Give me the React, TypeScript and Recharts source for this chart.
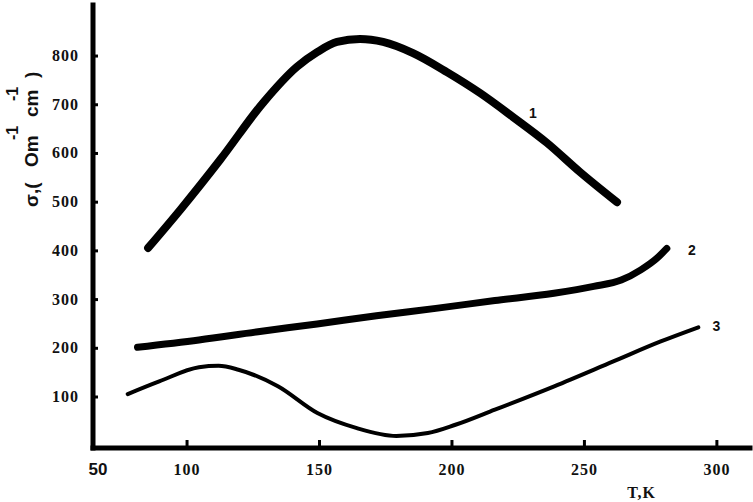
import React from "react";
import { LineChart, Line, XAxis, YAxis, Label, LabelList } from "recharts";

// Curve 1
const curve1T = [85.3, 97.4, 112.5, 128.7, 141.5, 149.1, 156.6, 165.3, 174.0, 185.3, 198.1, 210.6, 223.0, 235.8, 248.3, 262.3];
const curve1Sigma = [406, 484, 587, 704, 778, 808, 829, 835, 829, 806, 767, 724, 675, 622, 562, 500];
// Curve 2
const curve2T = [81.3, 104.5, 126.8, 149.1, 171.5, 193.9, 216.2, 238.5, 253.5, 263.9, 271.3, 277.4, 281.1];
const curve2Sigma = [202, 217, 234, 250, 267, 282, 298, 313, 327, 340, 361, 385, 405];
// Curve 3
const curve3T = [77.6, 89.5, 104.5, 111.9, 119.4, 134.3, 149.2, 164.1, 179.0, 190.9, 201.3, 216.2, 238.6, 260.9, 278.8, 293.0];
const curve3Sigma = [106, 132, 161, 164, 156, 122, 67, 36, 20, 26, 43, 74, 122, 173, 214, 243];

const xTicks = [100, 150, 200, 250, 300];
const yTicks = [100, 200, 300, 400, 500, 600, 700, 800];
const seriesNames = ["1", "2", "3"];
const originLabel = "50";
const xTitle = "T,K";

const toRows = (t: number[], s: number[]) => t.map((v, i) => ({ t: v, s: s[i] }));
const data1 = toRows(curve1T, curve1Sigma);
const data2 = toRows(curve2T, curve2Sigma);
const data3 = toRows(curve3T, curve3Sigma);

const serif = "'Liberation Serif', 'Times New Roman', serif";
const sans = "'Liberation Sans', Arial, sans-serif";

const XTick = (props: any) => {
  const { x, y, payload } = props;
  return (
    <g>
      <line x1={x} x2={x} y1={y - 8} y2={y} stroke="#000" strokeWidth={3} />
      <text x={x} y={y + 27} textAnchor="middle" fontFamily={serif} fontWeight="bold" fontSize={16} letterSpacing={1} fill="#111">
        {payload.value}
      </text>
    </g>
  );
};

const YTick = (props: any) => {
  const { x, y, payload } = props;
  return (
    <g>
      <line x1={x} x2={x + 5} y1={y} y2={y} stroke="#000" strokeWidth={3} />
      <text x={x - 14} y={y + 5} textAnchor="end" fontFamily={serif} fontWeight="bold" fontSize={16} letterSpacing={1} fill="#111">
        {payload.value}
      </text>
    </g>
  );
};

const seriesLabel = (name: string, index: number, dx: number, dy: number) => (props: any) => {
  if (props.index !== index) return null;
  return (
    <text x={props.x + dx} y={props.y + dy} textAnchor="middle" dominantBaseline="central" fontFamily={sans} fontWeight="bold" fontSize={14} fill="#111">
      {name}
    </text>
  );
};

const YTitle = () => {
  const cx = 38;
  const cy = 207;
  return (
    <text
      transform={`rotate(-90, ${cx}, ${cy})`}
      fontFamily={sans}
      fontWeight="bold"
      fontSize={19}
      fill="#111"
    >
      <tspan x={cx} y={cy}>σ,(</tspan>
      <tspan x={cx + 40} y={cy}>Om</tspan>
      <tspan x={cx + 67} y={cy - 20} fontSize={16}>-1</tspan>
      <tspan x={cx + 90} y={cy}>cm</tspan>
      <tspan x={cx + 106} y={cy - 20} fontSize={16}>-1</tspan>
      <tspan x={cx + 129} y={cy}>)</tspan>
    </text>
  );
};

export default function App() {
  return (
    <div style={{ position: "absolute", left: 0, top: 0, background: "#fff" }}>
      <LineChart width={753} height={502} margin={{ top: 5, right: 3, left: 0, bottom: 0 }}>
        <XAxis
          type="number"
          dataKey="t"
          domain={[64.5, 312.5]}
          ticks={xTicks}
          allowDataOverflow
          height={54}
          tickSize={0}
          tickMargin={0}
          tickLine={false}
          axisLine={{ stroke: "#000", strokeWidth: 5, strokeLinecap: "square" }}
          tick={<XTick />}
        >
          <Label
            content={(p: any) => {
              const vb = p.viewBox;
              return (
                <g>
                  <text x={vb.x + 5} y={vb.y + 27} textAnchor="middle" fontFamily={sans} fontWeight="bold" fontSize={17} fill="#111">
                    {originLabel}
                  </text>
                  <text x={vb.x + vb.width * 0.835} y={vb.y + 50} textAnchor="middle" fontFamily={serif} fontWeight="bold" fontSize={16} letterSpacing={1} fill="#111">
                    {xTitle}
                  </text>
                </g>
              );
            }}
          />
        </XAxis>
        <YAxis
          type="number"
          domain={[-4.7, 904.8]}
          ticks={yTicks}
          allowDataOverflow
          width={93}
          tickSize={0}
          tickMargin={0}
          tickLine={false}
          axisLine={{ stroke: "#000", strokeWidth: 5, strokeLinecap: "square" }}
          tick={<YTick />}
        >
          <Label content={() => <YTitle />} />
        </YAxis>
        <Line data={data1} dataKey="s" type="monotone" stroke="#000" strokeWidth={8} strokeLinecap="round" dot={false} activeDot={false} isAnimationActive={false}>
          <LabelList dataKey="s" content={seriesLabel(seriesNames[0], 12, 20, -4)} />
        </Line>
        <Line data={data2} dataKey="s" type="monotone" stroke="#000" strokeWidth={7} strokeLinecap="round" dot={false} activeDot={false} isAnimationActive={false}>
          <LabelList dataKey="s" content={seriesLabel(seriesNames[1], curve2T.length - 1, 25, 2)} />
        </Line>
        <Line data={data3} dataKey="s" type="monotone" stroke="#000" strokeWidth={4} strokeLinecap="round" dot={false} activeDot={false} isAnimationActive={false}>
          <LabelList dataKey="s" content={seriesLabel(seriesNames[2], curve3T.length - 1, 18, -1)} />
        </Line>
      </LineChart>
    </div>
  );
}
